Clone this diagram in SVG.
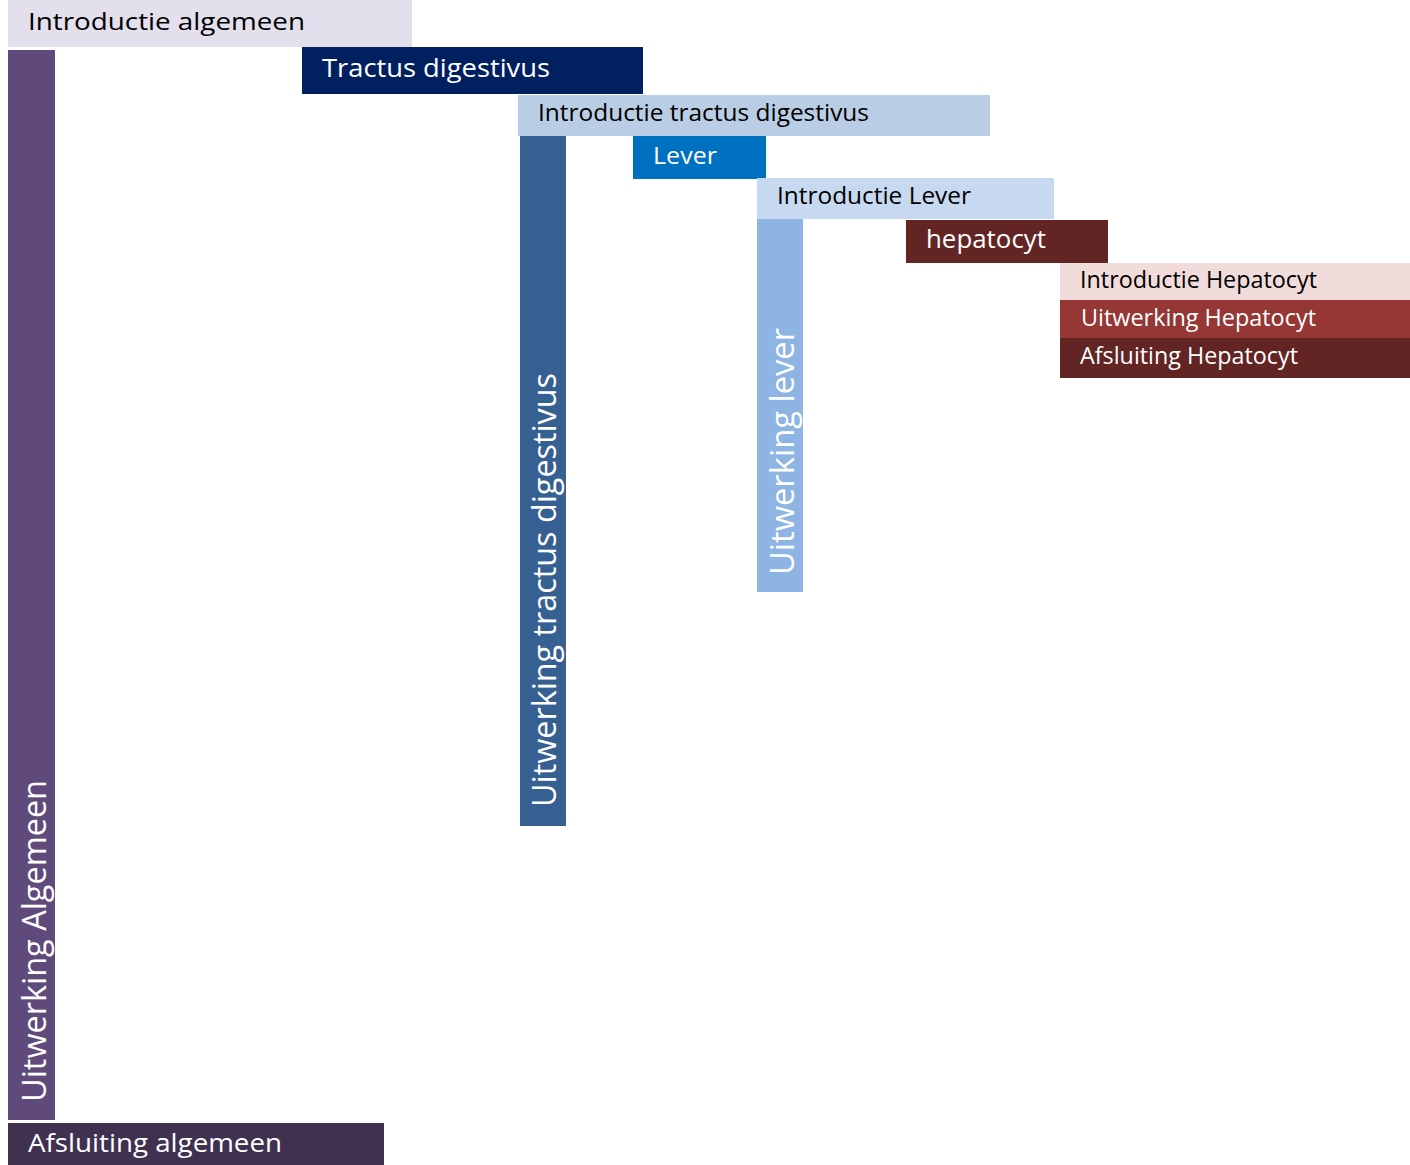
<svg xmlns="http://www.w3.org/2000/svg" width="1410" height="1165" viewBox="0 0 1410 1165">
<style>
text{font-family:"Open Sans","Noto Sans","Liberation Sans",sans-serif;}
.w{fill:#FFFFFF;}
.b{fill:#000000;}
.h{font-size:26px;}
.s{font-size:23.5px;}
.v{font-size:33px;}
</style>
<rect width="1410" height="1165" fill="#FFFFFF"/>
<g id="introductie-algemeen"><rect x="8" y="0" width="404" height="47" fill="#E4DFEC"/><text class="b" style="font-size:24px" x="28" y="30" textLength="277" lengthAdjust="spacingAndGlyphs">Introductie algemeen</text></g>
<g id="uitwerking-algemeen"><rect x="8" y="50" width="47" height="1070" fill="#604A7B"/><text class="w v" transform="translate(46,1102) rotate(-90)" textLength="322" lengthAdjust="spacingAndGlyphs">Uitwerking Algemeen</text></g>
<g id="afsluiting-algemeen"><rect x="8" y="1123" width="376" height="42" fill="#403151"/><text class="w h" x="28" y="1152" textLength="254" lengthAdjust="spacingAndGlyphs">Afsluiting algemeen</text></g>
<g id="tractus-digestivus"><rect x="302" y="47" width="341" height="47" fill="#002060"/><text class="w h" x="322" y="77" textLength="228" lengthAdjust="spacingAndGlyphs">Tractus digestivus</text></g>
<g id="introductie-tractus"><rect x="518" y="95" width="472" height="41" fill="#B9CDE5"/><text class="b s" x="538" y="121" textLength="331" lengthAdjust="spacingAndGlyphs">Introductie tractus digestivus</text></g>
<g id="uitwerking-tractus"><rect x="520" y="136" width="46" height="690" fill="#376092"/><text class="w v" transform="translate(556,807) rotate(-90)" textLength="434" lengthAdjust="spacingAndGlyphs">Uitwerking tractus digestivus</text></g>
<g id="lever"><rect x="633" y="136" width="133" height="43" fill="#0070C0"/><text class="w s" x="653" y="164" textLength="64" lengthAdjust="spacingAndGlyphs">Lever</text></g>
<g id="introductie-lever"><rect x="757" y="178" width="297" height="41" fill="#C6D9F1"/><text class="b s" x="777" y="204" textLength="194" lengthAdjust="spacingAndGlyphs">Introductie Lever</text></g>
<g id="uitwerking-lever"><rect x="757" y="219" width="46" height="373" fill="#8EB4E3"/><text class="w v" transform="translate(794,575) rotate(-90)" textLength="247" lengthAdjust="spacingAndGlyphs">Uitwerking lever</text></g>
<g id="hepatocyt"><rect x="906" y="220" width="202" height="43" fill="#632523"/><text class="w h" x="926" y="248" textLength="120" lengthAdjust="spacingAndGlyphs">hepatocyt</text></g>
<g id="introductie-hepatocyt"><rect x="1060" y="263" width="350" height="37" fill="#F2DCDB"/><text class="b s" x="1080" y="288" textLength="237" lengthAdjust="spacingAndGlyphs">Introductie Hepatocyt</text></g>
<g id="uitwerking-hepatocyt"><rect x="1060" y="300" width="350" height="38" fill="#953735"/><text class="w s" x="1081" y="326" textLength="235" lengthAdjust="spacingAndGlyphs">Uitwerking Hepatocyt</text></g>
<g id="afsluiting-hepatocyt"><rect x="1060" y="338" width="350" height="40" fill="#632523"/><text class="w s" x="1080" y="364" textLength="218" lengthAdjust="spacingAndGlyphs">Afsluiting Hepatocyt</text></g>
<g id="connectors"></g>
</svg>
